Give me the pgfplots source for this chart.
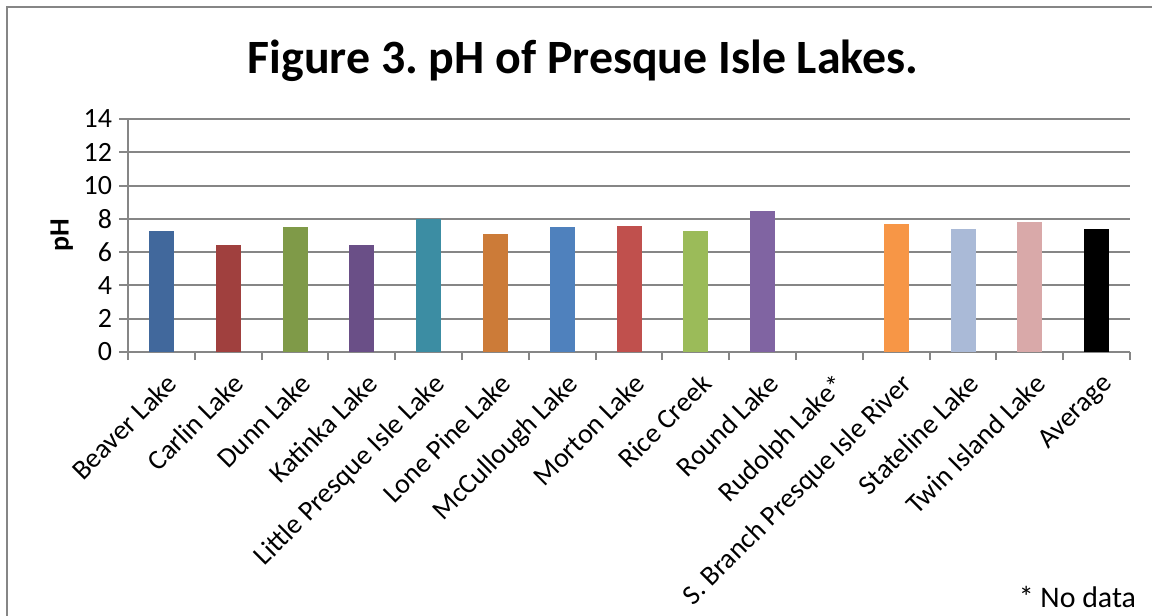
\documentclass[border=0pt]{standalone}
\usepackage{fontspec}
\setmainfont{Carlito}
\usepackage{pgfplots}
\pgfplotsset{compat=1.18}
\frenchspacing
\definecolor{gridc}{RGB}{134,134,134}
\definecolor{c1}{RGB}{65,104,156}
\definecolor{c2}{RGB}{160,64,62}
\definecolor{c3}{RGB}{127,154,72}
\definecolor{c4}{RGB}{106,79,135}
\definecolor{c5}{RGB}{60,141,163}
\definecolor{c6}{RGB}{204,123,56}
\definecolor{c7}{RGB}{79,129,189}
\definecolor{c8}{RGB}{192,80,77}
\definecolor{c9}{RGB}{155,187,89}
\definecolor{c10}{RGB}{128,100,162}
\definecolor{c12}{RGB}{247,150,70}
\definecolor{c13}{RGB}{170,186,215}
\definecolor{c14}{RGB}{217,169,169}
\definecolor{c15}{RGB}{0,0,0}
\begin{document}
\begin{tikzpicture}
\useasboundingbox (0bp,0bp) rectangle (576bp,308bp);
\draw[gridc, line width=1bp] (3.5bp,-10bp) -- (3.5bp,304.5bp) -- (600bp,304.5bp);
\node[font=\bfseries\fontsize{24}{28}\selectfont] at (291.5bp,277.5bp) {Figure 3. pH of Presque Isle Lakes.};
\node[font=\fontsize{15}{18}\selectfont, anchor=base east] at (571.5bp,4.5bp) {* No data};
\begin{axis}[
  at={(64bp,132bp)}, anchor=south west,
  scale only axis, width=501bp, height=116.5bp,
  xmin=-0.5, xmax=14.5, ymin=0, ymax=14,
  ytick={0,2,...,14},
  xtick={0,...,14},
  minor xtick={-0.5,0.5,...,14.5},
  xticklabels={Beaver Lake, Carlin Lake, Dunn Lake, Katinka Lake, Little Presque Isle Lake, Lone Pine Lake, McCullough Lake, Morton Lake, Rice Creek, Round Lake, Rudolph Lake*, S. Branch Presque Isle River, Stateline Lake, Twin Island Lake, Average},
  axis x line*=bottom, axis y line*=left,
  axis line style={gridc, line width=1bp, -},
  ymajorgrids, major grid style={gridc, line width=1bp},
  tick align=outside,
  major tick length=4.5bp, minor tick length=4bp,
  major x tick style={draw=none},
  minor x tick style={gridc, line width=1bp},
  y tick style={gridc, line width=1bp},
  tick label style={font=\fontsize{14}{16}\selectfont, text=black},
  /pgf/number format/assume math mode=true,
  xticklabel style={rotate=45, anchor=north east, inner sep=2bp, yshift=-3bp, xshift=-0.5bp},
  ylabel={pH},
  ylabel style={at={(axis description cs:-0.066,0.5)}, anchor=center, font=\bfseries\fontsize{14}{16}\selectfont},
  bar width=12.5bp,
]
\addplot[ybar, bar shift=0pt, fill=c1, draw=none] coordinates {(0,7.3)};
\addplot[ybar, bar shift=0pt, fill=c2, draw=none] coordinates {(1,6.4)};
\addplot[ybar, bar shift=0pt, fill=c3, draw=none] coordinates {(2,7.5)};
\addplot[ybar, bar shift=0pt, fill=c4, draw=none] coordinates {(3,6.4)};
\addplot[ybar, bar shift=0pt, fill=c5, draw=none] coordinates {(4,8.0)};
\addplot[ybar, bar shift=0pt, fill=c6, draw=none] coordinates {(5,7.1)};
\addplot[ybar, bar shift=0pt, fill=c7, draw=none] coordinates {(6,7.5)};
\addplot[ybar, bar shift=0pt, fill=c8, draw=none] coordinates {(7,7.6)};
\addplot[ybar, bar shift=0pt, fill=c9, draw=none] coordinates {(8,7.3)};
\addplot[ybar, bar shift=0pt, fill=c10, draw=none] coordinates {(9,8.5)};
\addplot[ybar, bar shift=0pt, fill=c12, draw=none] coordinates {(11,7.7)};
\addplot[ybar, bar shift=0pt, fill=c13, draw=none] coordinates {(12,7.4)};
\addplot[ybar, bar shift=0pt, fill=c14, draw=none] coordinates {(13,7.8)};
\addplot[ybar, bar shift=0pt, fill=c15, draw=none] coordinates {(14,7.4)};
\end{axis}
\end{tikzpicture}
\end{document}
